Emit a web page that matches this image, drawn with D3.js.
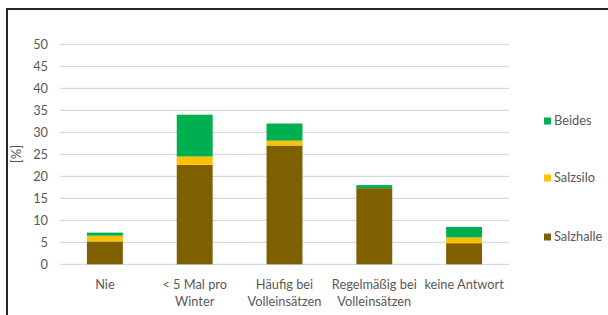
<!DOCTYPE html>
<html>
<head>
<meta charset="utf-8">
<script src="https://cdn.jsdelivr.net/npm/d3@7"></script>
<style>
  body { margin: 0; background: #fff; }
  text { font-family: Lato, "Open Sans", sans-serif; }
</style>
</head>
<body>
<div id="chart"></div>
<script>
// Daten
var kategorien = [["Nie"], ["< 5 Mal pro", "Winter"], ["Häufig bei", "Volleinsätzen"], ["Regelmäßig bei", "Volleinsätzen"], ["keine Antwort"]];
var salzhalle = [5.2, 22.6, 27.0, 17.3, 4.8];
var salzsilo = [1.3, 1.9, 1.1, 0.0, 1.3];
var beides = [0.7, 9.5, 3.9, 0.7, 2.4];
var serien = ["Salzhalle", "Salzsilo", "Beides"];
var farben = ["#7F6000", "#FFC000", "#00B050"];
var yTicks = [0, 5, 10, 15, 20, 25, 30, 35, 40, 45, 50];

var breite = 608, hoehe = 315;
var svg = d3.select("#chart").append("svg").attr("width", breite).attr("height", hoehe);

// Rahmen
svg.append("rect").attr("x", 7).attr("y", 9).attr("width", 620).attr("height", 330)
  .attr("fill", "none").attr("stroke", "#262626").attr("stroke-width", 2);

var x = d3.scaleBand().domain(d3.range(kategorien.length)).range([60, 509])
  .paddingInner(0.6).paddingOuter(0.3);
var y = d3.scaleLinear().domain([0, 50]).range([264.3, 44.3]);

// Gitterlinien
svg.selectAll("line.grid").data(yTicks).enter().append("line")
  .attr("x1", 60).attr("x2", 509)
  .attr("y1", function(d) { return y(d); }).attr("y2", function(d) { return y(d); })
  .attr("stroke", "#D9D9D9").attr("stroke-width", 1.3);

// Y-Achse
var yAchse = svg.append("g").attr("transform", "translate(52,0)")
  .call(d3.axisLeft(y).tickValues(yTicks).tickSize(0).tickPadding(4));
yAchse.select(".domain").remove();
yAchse.selectAll("text").attr("fill", "#595959").style("font-size", "12.8px")
  .style("font-family", "Lato, 'Open Sans', sans-serif");

svg.append("text").attr("transform", "translate(21,154) rotate(-90)")
  .attr("text-anchor", "middle").attr("fill", "#595959").style("font-size", "13px")
  .text("[%]");

// Stapel
var tabelle = kategorien.map(function(k, i) {
  return { Salzhalle: salzhalle[i], Salzsilo: salzsilo[i], Beides: beides[i], i: i };
});
var stapel = d3.stack().keys(serien)(tabelle);

svg.selectAll("g.serie").data(stapel).enter().append("g")
  .attr("fill", function(d, i) { return farben[i]; })
  .selectAll("rect").data(function(d) { return d; }).enter().append("rect")
  .attr("x", function(d) { return x(d.data.i); })
  .attr("width", x.bandwidth())
  .attr("y", function(d) { return y(d[1]); })
  .attr("height", function(d) { return y(d[0]) - y(d[1]); });

// X-Beschriftung
var xLabels = svg.selectAll("text.xl").data(kategorien).enter().append("text")
  .attr("text-anchor", "middle").attr("fill", "#595959").style("font-size", "12.8px")
  .attr("transform", function(d, i) { return "translate(" + (x(i) + x.bandwidth() / 2) + ",289)"; });
xLabels.selectAll("tspan").data(function(d) { return d; }).enter().append("tspan")
  .attr("x", 0).attr("dy", function(d, j) { return j == 0 ? 0 : 17; })
  .text(function(d) { return d; });

// Legende (umgekehrte Reihenfolge)
var legendeY = [121, 178, 237];
var legende = svg.selectAll("g.leg").data(["Beides", "Salzsilo", "Salzhalle"]).enter().append("g")
  .attr("transform", function(d, i) { return "translate(544," + legendeY[i] + ")"; });
legende.append("rect").attr("x", 0).attr("y", -3.5).attr("width", 7).attr("height", 7)
  .attr("fill", function(d) { return farben[serien.indexOf(d)]; });
legende.append("text").attr("x", 10).attr("dy", "0.35em").attr("fill", "#595959")
  .style("font-size", "12.8px").text(function(d) { return d; });
</script>
</body>
</html>
